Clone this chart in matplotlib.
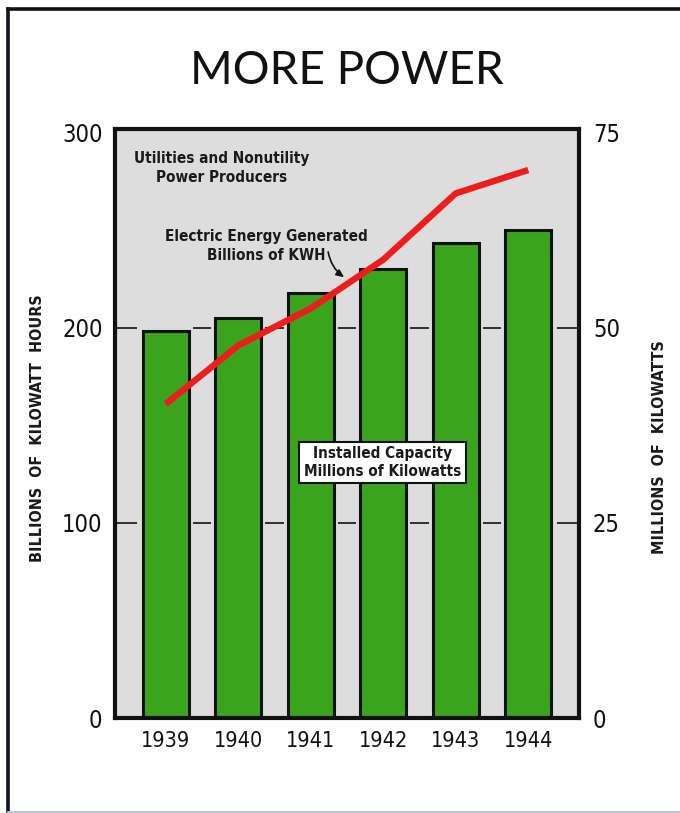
import matplotlib
matplotlib.use("Agg")
import matplotlib.pyplot as plt
from matplotlib.lines import Line2D

# Data
years = ["1939", "1940", "1941", "1942", "1943", "1944"]
capacity_mkw = [49.6, 51.3, 54.5, 57.6, 60.9, 62.5]        # installed capacity, millions of kW
energy_bkwh = [161, 191, 210, 235, 269, 281]              # energy generated, billions of kWh
left_ticks = [0, 100, 200, 300]
right_ticks = [0, 25, 50, 75]

NARROW = dict(family=["DejaVu Sans"], stretch="condensed")
GREEN = "#3aa41c"
RED = "#ee1c1c"
PANEL = "#dddddd"
INK = "#1a1a1a"

W, H = 680, 813
fig = plt.figure(figsize=(W / 100, H / 100), dpi=100)
fig.patch.set_facecolor("white")

# outer border (top and left rules, light bottom rule)
fig.add_artist(Line2D([8 / W, 1.0], [1 - 9 / H, 1 - 9 / H], color="#111111", lw=2.6))
fig.add_artist(Line2D([8 / W, 8 / W], [1 - 9 / H, 0.0], color="#111122", lw=2.6))
fig.add_artist(Line2D([8 / W, 1.0], [1.5 / H, 1.5 / H], color="#b9c6d2", lw=2))

fig.text(347 / W, 1 - 71 / H, "MORE POWER", ha="center", va="center",
         fontsize=33, family=["Lato", "DejaVu Sans"], fontweight="normal", color="#111111")

left, right, bottom, top = 115, 579, 718, 129
ax = fig.add_axes([left / W, 1 - bottom / H, (right - left) / W, (bottom - top) / H])
ax.set_facecolor(PANEL)

x = list(range(len(years)))
ax.set_xlim(-0.7, len(years) - 0.3)
ax.set_ylim(0, right_ticks[-1] * 302 / 300)

# short grid dashes in the gaps between bars
for level in right_ticks[1:3]:
    ax.hlines(level, -0.7, -0.40, color="#222222", lw=1.3, zorder=1)
    for i in range(len(years) - 1):
        ax.hlines(level, i + 0.5 - 0.125, i + 0.5 + 0.125, color="#222222", lw=1.3, zorder=1)
    ax.hlines(level, len(years) - 1 + 0.39, len(years) - 0.3, color="#222222", lw=1.3, zorder=1)

ax.bar(x, capacity_mkw, width=0.64, color=GREEN, edgecolor="#111111", linewidth=2.2, zorder=2)

ax.set_xticks(x)
ax.set_xticklabels(years, fontsize=15.5, **NARROW)
ax.tick_params(axis="both", length=0, colors="#111111")
ax.tick_params(axis="x", pad=9)
for s in ax.spines.values():
    s.set_linewidth(3)
    s.set_color("#111111")

ax2 = ax.twinx()
ax2.set_ylim(0, left_ticks[-1] * 302 / 300)
ax2.yaxis.tick_left()
ax2.set_yticks(left_ticks)
ax2.set_yticklabels([str(t) for t in left_ticks], fontsize=17, **NARROW)
ax2.tick_params(axis="y", length=0, pad=9, colors="#111111")
for s in ax2.spines.values():
    s.set_visible(False)

# capacity scale on the right side
ax.yaxis.tick_right()
ax.set_yticks(right_ticks)
ax.set_yticklabels([str(t) for t in right_ticks], fontsize=17, **NARROW)
ax.tick_params(axis="y", length=0, pad=10, colors="#111111")

ax2.plot(x, energy_bkwh, color=RED, lw=4.6, solid_capstyle="butt", zorder=5)

ax2.text(0.77, 282, "Utilities and Nonutility\nPower Producers", ha="center", va="center",
         fontsize=11, fontweight="bold", color=INK, linespacing=1.3, **NARROW)

ax2.text(1.39, 242, "Electric Energy Generated\nBillions of KWH", ha="center", va="center",
         fontsize=11, fontweight="bold", color=INK, linespacing=1.3, **NARROW)
ax2.annotate("", xy=(2.46, 226), xytext=(2.24, 239),
             arrowprops=dict(arrowstyle="-|>,head_length=0.45,head_width=0.2", color="#111111",
                             lw=1.2, shrinkA=0, shrinkB=0,
                             connectionstyle="arc3,rad=0.2"))

ax2.text(2.99, 131, "Installed Capacity\nMillions of Kilowatts", ha="center", va="center",
         fontsize=11, fontweight="bold", color=INK, linespacing=1.2, **NARROW,
         bbox=dict(boxstyle="square,pad=0.3", facecolor="white", edgecolor="#111111", lw=1.5),
         zorder=6)

fig.text(38 / W, 1 - 428 / H, "BILLIONS  OF  KILOWATT  HOURS",
         rotation=90, ha="center", va="center", fontsize=11.5,
         fontweight="bold", color=INK, **NARROW)
fig.text(660 / W, 1 - 447 / H, "MILLIONS  OF  KILOWATTS",
         rotation=90, ha="center", va="center", fontsize=11.5,
         fontweight="bold", color=INK, **NARROW)

fig.savefig("out.png", dpi=100)
